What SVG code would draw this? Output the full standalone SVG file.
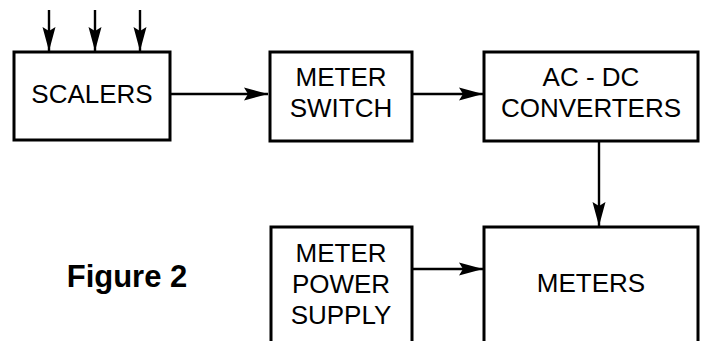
<svg xmlns="http://www.w3.org/2000/svg" width="705" height="341" viewBox="0 0 705 341">
<defs>
<style>
.box{fill:#fff;stroke:#000;stroke-width:3}
.ln{fill:none;stroke:#000;stroke-width:2.4}
.t{font-family:"Liberation Sans",Arial,sans-serif;font-size:26px;text-anchor:middle;fill:#000}
.fig{font-family:"Liberation Sans",Arial,sans-serif;font-size:31px;font-weight:bold;text-anchor:middle;fill:#000}
</style>
<marker id="ah" markerUnits="userSpaceOnUse" markerWidth="25" markerHeight="14" viewBox="0 0 25 14" refX="24" refY="7" orient="auto">
<path d="M0,0.5 L24,7 L0,13.5 L4,7 Z" fill="#000"/>
</marker>
</defs>
<g id="connectors">
<line class="ln" x1="49" y1="10" x2="49" y2="51" marker-end="url(#ah)"/>
<line class="ln" x1="95" y1="10" x2="95" y2="51" marker-end="url(#ah)"/>
<line class="ln" x1="140" y1="10" x2="140" y2="51" marker-end="url(#ah)"/>
<line class="ln" x1="170" y1="94" x2="268" y2="94" marker-end="url(#ah)"/>
<line class="ln" x1="412" y1="94" x2="483" y2="94" marker-end="url(#ah)"/>
<line class="ln" x1="599" y1="141" x2="599" y2="226" marker-end="url(#ah)"/>
<line class="ln" x1="412" y1="269" x2="483" y2="269" marker-end="url(#ah)"/>
</g>
<g id="scalers">
<rect class="box" x="14" y="52" width="156" height="88"/>
<text class="t" x="92" y="103">SCALERS</text>
</g>
<g id="meter-switch">
<rect class="box" x="270" y="52" width="142" height="89"/>
<text class="t" x="341" y="86">METER</text>
<text class="t" x="341" y="117">SWITCH</text>
</g>
<g id="ac-dc">
<rect class="box" x="484" y="52" width="214" height="89"/>
<text class="t" x="591" y="86">AC - DC</text>
<text class="t" x="591" y="117">CONVERTERS</text>
</g>
<g id="meter-power-supply">
<rect class="box" x="271" y="227" width="141" height="130"/>
<text class="t" x="341" y="262">METER</text>
<text class="t" x="341" y="293">POWER</text>
<text class="t" x="341" y="324">SUPPLY</text>
</g>
<g id="meters">
<rect class="box" x="484" y="227" width="214" height="130"/>
<text class="t" x="591" y="292">METERS</text>
</g>
<text class="fig" x="127" y="287">Figure 2</text>
</svg>
